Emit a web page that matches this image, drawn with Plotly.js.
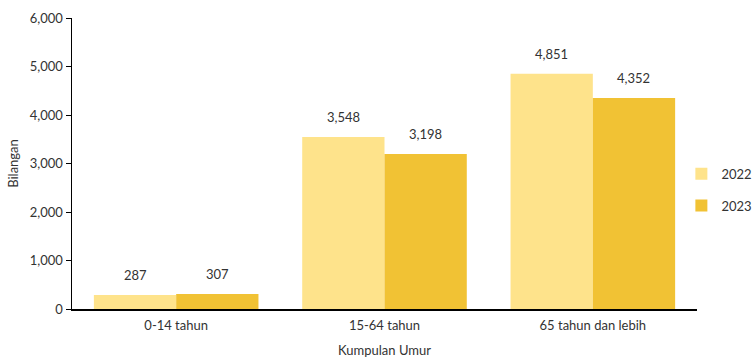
<!DOCTYPE html>
<html>
<head>
<meta charset="utf-8">
<script src="https://cdn.plot.ly/plotly-3.0.1.min.js"></script>
<style>html,body{margin:0;padding:0;background:#fff;}#chart{width:754px;height:358px;}</style>
</head>
<body>
<div id="chart"></div>
<script>
var categories = ["0-14 tahun", "15-64 tahun", "65 tahun dan lebih"];
var seriesNames = ["2022", "2023"];
var values2022 = [287, 3548, 4851];
var values2023 = [307, 3198, 4352];
var yTickVals = [0, 1000, 2000, 3000, 4000, 5000, 6000];
var yTickText = ["0", "1,000", "2,000", "3,000", "4,000", "5,000", "6,000"];

var colors = ["#FEE38B", "#F1C234"];
var fontFam = "Lato, 'DejaVu Sans', sans-serif";
var allSeries = [values2022, values2023];

var traces = allSeries.map(function(vals, k){
  return {
    type: "bar", name: seriesNames[k], x: categories, y: vals,
    marker: {color: colors[k]}, legendgroup: "g" + k,
    hoverinfo: "skip"
  };
});

var bargap = 0.21;
var barW = (1 - bargap) / 2;
var annotations = [];
allSeries.forEach(function(vals, k){
  vals.forEach(function(v, i){
    annotations.push({
      x: i + (k === 0 ? -barW/2 : barW/2), y: v, xref: "x", yref: "y",
      text: v.toLocaleString("en-US"), showarrow: false,
      yanchor: "bottom", yshift: 10,
      font: {family: fontFam, size: 13, color: "#333333"}
    });
  });
});

var layout = {
  width: 754, height: 358,
  margin: {l: 72, r: 57, t: 18, b: 49, autoexpand: false},
  paper_bgcolor: "#ffffff", plot_bgcolor: "#ffffff",
  font: {family: fontFam, size: 13, color: "#333333"},
  barmode: "group", bargap: bargap, bargroupgap: 0,
  showlegend: true,
  legend: {x: 0.975, xanchor: "left", y: 0.41, yanchor: "middle",
           tracegroupgap: 12, font: {family: fontFam, size: 13, color: "#333333"},
           itemwidth: 30},
  xaxis: {
    type: "category", showline: true, linecolor: "#000000", linewidth: 1.5,
    ticks: "", showgrid: false, zeroline: false, ticklabelstandoff: 4,
    tickfont: {family: fontFam, size: 13, color: "#333333"},
    title: {text: "Kumpulan Umur", font: {family: fontFam, size: 13, color: "#333333"}, standoff: 14}
  },
  yaxis: {
    range: [0, 6000], tickvals: yTickVals, ticktext: yTickText,
    showline: true, linecolor: "#000000", linewidth: 1.5,
    ticks: "outside", ticklen: 5, tickcolor: "#000000", tickwidth: 1,
    showgrid: false, zeroline: false,
    tickfont: {family: fontFam, size: 13, color: "#333333"},
    title: {text: "Bilangan", font: {family: fontFam, size: 13, color: "#333333"}, standoff: 8}
  },
  annotations: annotations
};

Plotly.newPlot("chart", traces, layout, {displayModeBar: false, staticPlot: true});
</script>
</body>
</html>
